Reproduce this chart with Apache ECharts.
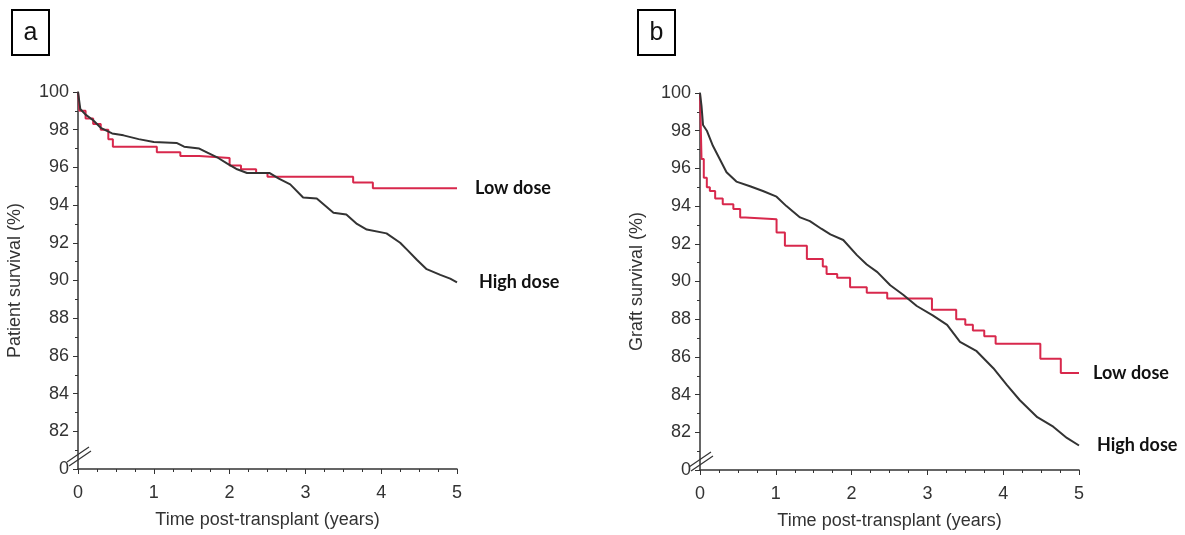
<!DOCTYPE html>
<html>
<head>
<meta charset="utf-8">
<script src="https://cdn.jsdelivr.net/npm/echarts@6/dist/echarts.min.js"></script>
<style>
  html, body { margin: 0; padding: 0; background: #fff; }
  #main { width: 1185px; height: 535px; }
</style>
</head>
<body>
<div id="main"></div>
<script>
// data: [years, survival %]
var lowDosePatient = [[0,100],[0.02,99.0],[0.1,98.6],[0.2,98.3],[0.3,98.0],[0.4,97.5],[0.46,97.1],[1.04,96.8],[1.35,96.6],[1.6,96.5],[2.0,96.1],[2.15,95.9],[2.35,95.7],[2.5,95.5],[3.63,95.2],[3.89,94.9],[5.0,94.9]];
var highDosePatient = [[0,100],[0.03,99.1],[0.1,98.8],[0.2,98.5],[0.3,98.1],[0.45,97.8],[0.6,97.7],[0.8,97.5],[1.0,97.35],[1.3,97.3],[1.4,97.1],[1.6,97.0],[1.7,96.8],[1.85,96.5],[1.97,96.2],[2.1,95.9],[2.23,95.7],[2.53,95.7],[2.65,95.4],[2.8,95.1],[2.97,94.4],[3.15,94.35],[3.37,93.6],[3.54,93.5],[3.68,93.0],[3.81,92.7],[4.07,92.5],[4.25,92.0],[4.35,91.6],[4.47,91.1],[4.6,90.6],[4.78,90.3],[4.91,90.1],[5.0,89.9]];
var lowDoseGraft = [[0,100],[0.02,96.5],[0.05,95.5],[0.09,95.0],[0.13,94.8],[0.2,94.4],[0.3,94.1],[0.44,93.85],[0.53,93.4],[0.6,93.3],[1.01,92.6],[1.12,91.9],[1.41,91.2],[1.62,90.8],[1.67,90.4],[1.81,90.2],[1.98,89.7],[2.2,89.4],[2.47,89.1],[3.06,88.5],[3.38,88.0],[3.5,87.7],[3.6,87.4],[3.75,87.1],[3.9,86.7],[4.49,85.9],[4.76,85.15],[5.0,85.15]];
var highDoseGraft = [[0,100],[0.02,99.3],[0.04,98.3],[0.09,98.0],[0.17,97.2],[0.26,96.5],[0.35,95.8],[0.48,95.3],[0.66,95.05],[0.83,94.8],[1.01,94.5],[1.14,94.0],[1.32,93.4],[1.45,93.2],[1.6,92.8],[1.72,92.5],[1.89,92.2],[2.07,91.4],[2.2,90.9],[2.34,90.5],[2.51,89.8],[2.68,89.3],[2.86,88.7],[3.07,88.2],[3.26,87.7],[3.43,86.8],[3.65,86.3],[3.87,85.4],[4.05,84.5],[4.22,83.7],[4.45,82.8],[4.66,82.3],[4.84,81.7],[5.0,81.3]];
// y axis is broken: the bottom tick (80) is shown as 0
var yTickLabels = {80: "0"};

var chart = echarts.init(document.getElementById("main"));
window.addEventListener("resize", chart.resize);

var txt = "#333";
var red = "#d8284c";
var dark = "#333";
var font = "Liberation Sans";

function xAxis(idx) {
    return {
        type: "value", gridIndex: idx, min: 0, max: 5, interval: 1,
        name: "Time post-transplant (years)", nameLocation: "middle", nameGap: 42,
        nameTextStyle: { color: txt, fontSize: 18, fontFamily: font },
        axisLine: { lineStyle: { color: dark, width: 1.5 } },
        axisTick: { length: 5, lineStyle: { color: dark } },
        minorTick: { show: true, splitNumber: 4, length: 3, lineStyle: { color: dark } },
        axisLabel: { color: txt, fontSize: 18, fontFamily: font, margin: 15 },
        splitLine: { show: false }
    };
}
function yAxis(idx, title) {
    return {
        type: "value", gridIndex: idx, min: 80, max: 100, interval: 2,
        name: title, nameLocation: "middle", nameGap: 54,
        nameTextStyle: { color: txt, fontSize: 18, fontFamily: font },
        axisLine: { show: true, lineStyle: { color: dark, width: 1.5 } },
        axisTick: { show: true, length: 5, lineStyle: { color: dark } },
        minorTick: { show: true, splitNumber: 2, length: 3, lineStyle: { color: dark } },
        axisLabel: {
            color: txt, fontSize: 18, fontFamily: font, margin: 9,
            formatter: function(v) { return yTickLabels[v] !== undefined ? yTickLabels[v] : v; }
        },
        splitLine: { show: false }
    };
}
function curve(name, data, idx, color, step, dist) {
    return {
        name: name, type: "line", xAxisIndex: idx, yAxisIndex: idx,
        data: data, step: step, symbol: "none", animation: false,
        lineStyle: { color: color, width: 2 },
        endLabel: {
            show: true, distance: dist, formatter: name,
            fontFamily: "Lato", fontWeight: "bold", fontSize: 18, color: "#111"
        }
    };
}
function breakMarks(x, y) {
    return [
        { type: "line", shape: { x1: x - 11, y1: y + 7, x2: x + 11, y2: y - 8 }, style: { stroke: dark, lineWidth: 1.2 } },
        { type: "line", shape: { x1: x - 9, y1: y + 11, x2: x + 13, y2: y - 4 }, style: { stroke: dark, lineWidth: 1.2 } }
    ];
}
function panelBox(x, letter) {
    return [
        { type: "rect", shape: { x: x, y: 10, width: 37, height: 45 }, style: { fill: "#fff", stroke: "#000", lineWidth: 2 } },
        { type: "text", x: x + 18.5, y: 33, style: { text: letter, fontSize: 25, fontFamily: font, fill: "#111", align: "center", verticalAlign: "middle" } }
    ];
}

var option = {
    backgroundColor: "#fff",
    grid: [
        { left: 78, top: 92, width: 379, height: 377 },
        { left: 700, top: 93, width: 379, height: 380 }
    ],
    xAxis: [xAxis(0), xAxis(1)],
    yAxis: [yAxis(0, "Patient survival (%)"), yAxis(1, "Graft survival (%)")],
    series: [
        curve("Low dose", lowDosePatient, 0, red, "end", 18),
        curve("High dose", highDosePatient, 0, dark, false, 22),
        curve("Low dose", lowDoseGraft, 1, red, "end", 14),
        curve("High dose", highDoseGraft, 1, dark, false, 18)
    ],
    graphic: [].concat(
        panelBox(12, "a"), panelBox(638, "b"),
        breakMarks(78, 455), breakMarks(700, 460)
    )
};
chart.setOption(option);
</script>
</body>
</html>
